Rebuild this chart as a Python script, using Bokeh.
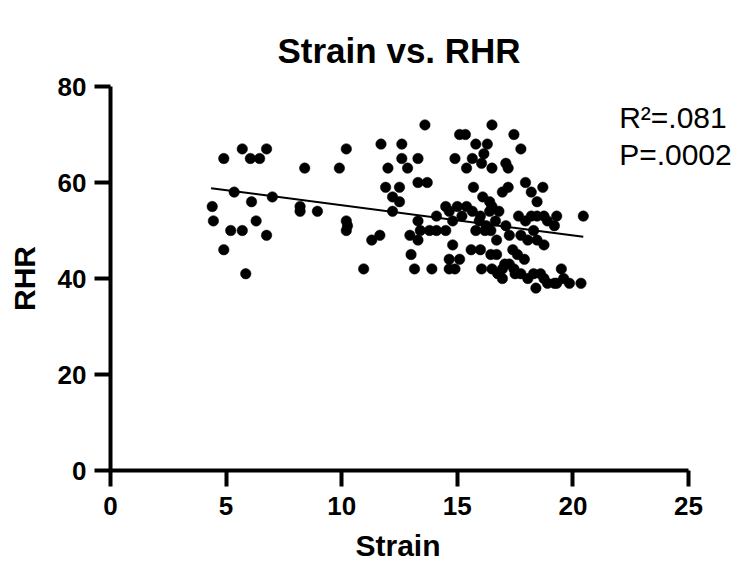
from bokeh.plotting import figure
from bokeh.models import Range1d, FixedTicker, Label, ColumnDataSource, Title
from bokeh.embed import file_html
from bokeh.resources import INLINE

strain = [4.4, 4.45, 4.9, 4.9, 5.2, 5.35, 5.7, 5.7, 5.85, 6.05, 6.1, 6.3, 6.45, 6.75, 6.75, 7.0,
          8.2, 8.2, 8.4, 8.95, 9.9, 10.2, 10.2, 10.25, 10.2, 10.95, 11.3, 11.65, 11.7, 11.9, 12.0,
          12.2, 12.2, 12.5, 12.5, 12.6, 12.6, 12.85,
          12.95, 13.0, 13.15, 13.3, 13.3, 13.3, 13.3, 13.4, 13.6, 13.7, 13.8, 13.9, 14.1, 14.1,
          14.5, 14.5, 14.65, 14.65, 14.65, 14.8, 14.8, 14.9, 14.9, 15.0, 15.1, 15.1, 15.35, 15.2,
          15.4, 15.4, 15.6, 15.65, 15.65, 15.7, 15.8, 15.8, 15.95, 16.0, 16.0, 16.05, 16.05, 16.1,
          16.15, 16.2, 16.25, 16.3, 16.4, 16.4, 16.45, 16.45, 16.5, 16.5, 16.5, 16.5, 16.65, 16.7,
          16.7, 16.75, 16.8, 16.95, 16.95, 16.95, 17.05, 17.1, 17.1, 17.2, 17.2, 17.25, 17.25, 17.4,
          17.45, 17.45, 17.5, 17.6, 17.65, 17.75, 17.75, 17.75, 17.9, 17.95, 17.95, 18.05, 18.05,
          18.2, 18.2, 18.3, 18.3, 18.4, 18.45, 18.45, 18.45, 18.6, 18.7, 18.75, 18.75, 18.75, 18.9,
          18.9, 19.2, 19.2, 19.3, 19.3, 19.5, 19.6, 19.85, 20.35, 20.45]
rhr = [55, 52, 65, 46, 50, 58, 67, 50, 41, 65, 56, 52, 65, 67, 49, 57,
       55, 54, 63, 54, 63, 67, 52, 51, 50, 42, 48, 49, 68, 59, 63,
       57, 54, 59, 56, 68, 65, 63,
       49, 45, 42, 48, 52, 65, 60, 50, 72, 60, 50, 42, 53, 50,
       50, 55, 54, 44, 42, 52, 47, 42, 65, 55, 44, 70, 70, 53,
       63, 55, 46, 54, 65, 59, 68, 50, 52, 46, 53, 64, 42, 57,
       66, 50, 51, 68, 54, 56, 45, 50, 72, 63, 55, 42, 52, 48,
       45, 41, 54, 58, 42, 40, 43, 64, 51, 63, 59, 49, 43, 46,
       70, 42, 41, 45, 53, 67, 49, 41, 44, 60, 52, 48, 40,
       58, 53, 50, 41, 38, 56, 53, 48, 41, 59, 53, 47, 40, 52,
       39, 51, 39, 53, 39, 42, 40, 39, 39, 53]

fit_x = [4.35, 20.45]
fit_y = [58.8, 48.7]

x_ticks = [0, 5, 10, 15, 20, 25]
y_ticks = [0, 20, 40, 60, 80]

title_text = "Strain vs. RHR"
x_label = "Strain"
y_label = "RHR"
stat_lines = ["R\u00b2=.081", "P=.0002"]

FONT = "Liberation Sans"

# frame spans from x=0 (px 110) to the right edge of the canvas; axis drawn only 0..25
p = figure(width=737, height=571, output_backend="svg", toolbar_location=None,
           x_range=Range1d(0, 27.12), y_range=Range1d(0, 80),
           min_border_left=110, min_border_right=0, min_border_top=86, min_border_bottom=101)

p.title.text = title_text
p.title.align = "left"
p.title.offset = 167
p.title.text_font = FONT
p.title.text_font_size = "35px"
p.title.text_font_style = "bold"
p.title.text_color = "black"
p.title.standoff = 34

p.outline_line_color = None
p.xgrid.visible = False
p.ygrid.visible = False
p.background_fill_color = "white"
p.border_fill_color = "white"

for ax, ticks in ((p.xaxis[0], x_ticks), (p.yaxis[0], y_ticks)):
    ax.ticker = FixedTicker(ticks=ticks)
    ax.axis_line_width = 4
    ax.axis_line_color = "black"
    ax.major_tick_line_width = 4
    ax.major_tick_line_color = "black"
    ax.major_tick_out = 16
    ax.major_tick_in = 0
    ax.minor_tick_line_color = None
    ax.major_label_text_font = FONT
    ax.major_label_text_font_size = "26px"
    ax.major_label_text_font_style = "bold"
    ax.major_label_text_color = "black"
    ax.axis_label_text_font = FONT
    ax.axis_label_text_font_size = "30px"
    ax.axis_label_text_font_style = "bold"
    ax.axis_label_text_color = "black"

p.xaxis.bounds = (0, 25)
p.yaxis.axis_label = y_label
p.xaxis.major_label_standoff = 10
p.yaxis.major_label_standoff = 8
p.yaxis.axis_label_standoff = 14

# x-axis title, centred under the 0..25 axis
xt = Title(text=x_label, align="left", offset=245, text_font=FONT, text_font_size="30px",
           text_font_style="bold", text_color="black", standoff=19)
p.add_layout(xt, "below")

src = ColumnDataSource(dict(x=strain, y=rhr))
p.scatter("x", "y", source=src, size=10.5, fill_color="black", line_color="black", line_width=0.5)
p.line(fit_x, fit_y, line_color="black", line_width=2)

p.add_layout(Label(x=22.0, y=73.6, text=stat_lines[0], text_font=FONT, text_font_size="30px",
                   text_color="black", text_baseline="alphabetic"))
p.add_layout(Label(x=22.0, y=65.8, text=stat_lines[1], text_font=FONT, text_font_size="30px",
                   text_color="black", text_baseline="alphabetic"))

open("out.html", "w").write(file_html(p, INLINE))
